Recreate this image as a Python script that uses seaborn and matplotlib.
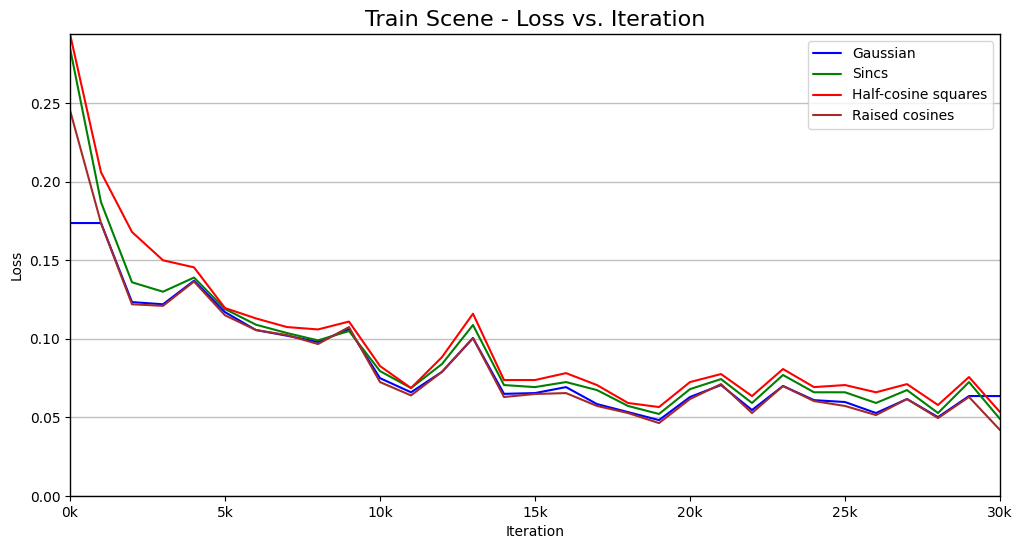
import matplotlib
matplotlib.use("Agg")
import matplotlib.pyplot as plt
import seaborn as sns
import pandas as pd
import numpy as np
from matplotlib.ticker import FuncFormatter

iterations = list(range(0, 31000, 1000))

gaussian = [0.1737, 0.1737, 0.1234, 0.1220, 0.1370, 0.1170, 0.1056, 0.1020, 0.0980, 0.1062,
            0.0750, 0.0660, 0.0790, 0.1005, 0.0650, 0.0655, 0.0693, 0.0585, 0.0534, 0.0483,
            0.0630, 0.0706, 0.0547, 0.0700, 0.0610, 0.0598, 0.0528, 0.0617, 0.0502, 0.0636,
            0.0636]
sincs = [0.2850, 0.1870, 0.1360, 0.1300, 0.1390, 0.1190, 0.1090, 0.1037, 0.0990, 0.1050,
         0.0795, 0.0687, 0.0840, 0.1088, 0.0706, 0.0693, 0.0725, 0.0674, 0.0573, 0.0522,
         0.0680, 0.0744, 0.0592, 0.0770, 0.0660, 0.0660, 0.0592, 0.0674, 0.0528, 0.0725,
         0.0490]
half_cos_sq = [0.2940, 0.2060, 0.1680, 0.1500, 0.1455, 0.1196, 0.1130, 0.1075, 0.1060, 0.1110,
               0.0827, 0.0687, 0.0884, 0.1160, 0.0738, 0.0738, 0.0782, 0.0706, 0.0592, 0.0566,
               0.0725, 0.0776, 0.0636, 0.0808, 0.0693, 0.0706, 0.0660, 0.0712, 0.0579, 0.0757,
               0.0534]
raised_cos = [0.2455, 0.1737, 0.1220, 0.1210, 0.1365, 0.1150, 0.1056, 0.1024, 0.0967, 0.1075,
              0.0725, 0.0640, 0.0790, 0.1005, 0.0630, 0.0649, 0.0655, 0.0573, 0.0528, 0.0464,
              0.0617, 0.0712, 0.0528, 0.0700, 0.0604, 0.0573, 0.0515, 0.0617, 0.0496, 0.0630,
              0.0420]

series_names = ["Gaussian", "Sincs", "Half-cosine squares", "Raised cosines"]
series_colors = ["blue", "green", "red", "brown"]

df = pd.concat([
    pd.DataFrame({"Iteration": iterations, "Loss": vals, "Method": name})
    for name, vals in zip(series_names, [gaussian, sincs, half_cos_sq, raised_cos])
], ignore_index=True)

sns.set_style("white")
plt.rcParams['font.family'] = ['DejaVu Sans']
plt.rcParams['text.color'] = 'black'
plt.rcParams['axes.labelcolor'] = 'black'
plt.rcParams['xtick.color'] = 'black'
plt.rcParams['ytick.color'] = 'black'

fig = plt.figure(figsize=(10.22, 5.49), dpi=100)
ax = fig.add_axes([70/1022, 1 - 496/549, 930/1022, 462/549])

sns.lineplot(data=df, x="Iteration", y="Loss", hue="Method",
             palette=dict(zip(series_names, series_colors)), ax=ax, linewidth=1.5)

ax.set_xlim(0, 30000)
ax.set_ylim(0, max(half_cos_sq))
ax.set_yticks([0, 0.05, 0.10, 0.15, 0.20, 0.25])
ax.yaxis.set_major_formatter(FuncFormatter(lambda v, p: f"{v:.2f}"))
ax.set_xticks(range(0, 30001, 5000))
ax.xaxis.set_major_formatter(FuncFormatter(lambda v, p: f"{int(v/1000)}k"))
ax.grid(axis="y", color="#c0c0c0", linewidth=1)
ax.grid(axis="x", visible=False)
ax.tick_params(axis="both", which="both", length=3.5, direction="out", bottom=True, left=True,
               colors="black", labelcolor="black", labelsize=10)
for s in ax.spines.values():
    s.set_color("black")
    s.set_linewidth(1.0)
ax.set_title("Train Scene - Loss vs. Iteration", fontsize=16, color="black")
ax.set_xlabel("Iteration", fontsize=10, color="black")
ax.set_ylabel("Loss", fontsize=10, color="black")
leg = ax.legend(loc="upper right", fontsize=10, frameon=True)
leg.get_frame().set_edgecolor("#cccccc")
for t in leg.get_texts():
    t.set_color("black")

fig.savefig("out.png", dpi=100)
